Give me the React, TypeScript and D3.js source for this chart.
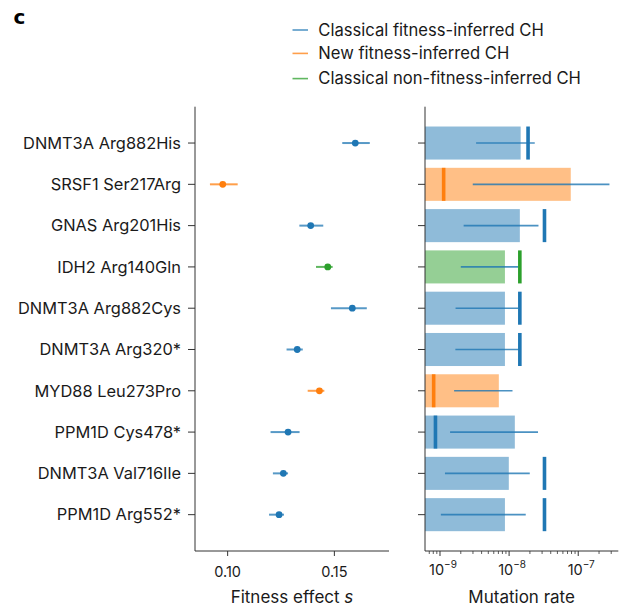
import React from "react";
import * as d3 from "d3";

const categories = [
  "DNMT3A Arg882His",
  "SRSF1 Ser217Arg",
  "GNAS Arg201His",
  "IDH2 Arg140Gln",
  "DNMT3A Arg882Cys",
  "DNMT3A Arg320*",
  "MYD88 Leu273Pro",
  "PPM1D Cys478*",
  "DNMT3A Val716Ile",
  "PPM1D Arg552*",
];
const groups = ["classical", "new", "classical", "nonfit", "classical", "classical", "new", "classical", "classical", "classical"];
const fitness = [0.1598, 0.0977, 0.1389, 0.1469, 0.1584, 0.1326, 0.143, 0.1283, 0.1261, 0.1241];
const fitnessLo = [0.1537, 0.0917, 0.1336, 0.1414, 0.1484, 0.1276, 0.1375, 0.1201, 0.1212, 0.1194];
const fitnessHi = [0.1666, 0.1047, 0.1448, 0.1492, 0.1652, 0.1352, 0.1453, 0.1337, 0.1283, 0.1264];
const barRate = [1.47e-8, 7.8e-8, 1.43e-8, 8.7e-9, 8.7e-9, 8.7e-9, 7.1e-9, 1.21e-8, 9.9e-9, 8.7e-9];
const markerRate = [1.88e-8, 1.13e-9, 3.25e-8, 1.43e-8, 1.43e-8, 1.43e-8, 8.1e-10, 8.6e-10, 3.25e-8, 3.25e-8];
const rateLo = [3.33e-9, 2.98e-9, 2.2e-9, 2.0e-9, 1.68e-9, 1.67e-9, 1.6e-9, 1.4e-9, 1.18e-9, 1.03e-9];
const rateHi = [2.35e-8, 2.83e-7, 2.66e-8, 1.35e-8, 1.35e-8, 1.4e-8, 1.12e-8, 2.62e-8, 1.99e-8, 1.74e-8];
const legendKeys = ["classical", "new", "nonfit"];
const legendLabels = ["Classical fitness-inferred CH", "New fitness-inferred CH", "Classical non-fitness-inferred CH"];
const fitnessTicks = [0.1, 0.15];
const rateMajorTicks = [1e-9, 1e-8, 1e-7];
const rateMajorExp = [-9, -8, -7];

const colors: Record<string, string> = {
  classical: "#1f77b4",
  new: "#ff7f0e",
  nonfit: "#2ca02c",
};

const FONT = "Inter, 'Noto Sans', sans-serif";
const TXT = "#1a1a1a";

export default function App() {
  const W = 631;
  const H = 611;
  const top = 106.7;
  const bottom = 551;
  const y = d3.scalePoint<string>().domain(categories).range([top, bottom]).padding(0.88);
  const step = y.step();
  const barH = step * 0.8;

  const xL = d3.scaleLinear().domain([0.0847, 0.1756]).range([195, 389]);
  const xR = d3.scaleLog().domain([6.07e-10, 3.8e-7]).range([425, 618.3]);

  const [dmin, dmax] = xR.domain();
  const minorTicks: number[] = [];
  for (let e = -10; e <= -7; e++) {
    for (let m = 2; m <= 9; m++) {
      const v = m * Math.pow(10, e);
      if (v >= dmin && v <= dmax) minorTicks.push(v);
    }
  }

  const axisColor = "#333";
  const legendY = [30, 53.4, 78.6];

  return (
    <svg width={W} height={H} style={{ position: "absolute", left: 0, top: 0 }} fontFamily={FONT}>
      <rect width={W} height={H} fill="#fff" />
      <text x={13.5} y={24} fontSize={20} fontWeight={900} fontFamily="'DejaVu Sans', sans-serif">c</text>

      {/* legend */}
      {legendKeys.map((k, i) => (
        <g key={k}>
          <line x1={292.5} x2={308} y1={legendY[i]} y2={legendY[i]} stroke={colors[k]} strokeWidth={1.6} opacity={0.75} />
          <text x={318.3} y={legendY[i] + 5.8} fontSize={16.6} fill={TXT}>{legendLabels[i]}</text>
        </g>
      ))}

      {/* left panel */}
      <line x1={195} x2={195} y1={top} y2={bottom} stroke={axisColor} strokeWidth={1} />
      <line x1={195} x2={389} y1={bottom} y2={bottom} stroke={axisColor} strokeWidth={1} />
      {categories.map((c) => (
        <g key={c}>
          <line x1={188} x2={195} y1={y(c)} y2={y(c)} stroke={axisColor} strokeWidth={1} />
          <text x={181} y={(y(c) as number) + 5.8} fontSize={16.4} textAnchor="end" fill={TXT}>{c}</text>
        </g>
      ))}
      {fitnessTicks.map((t) => (
        <g key={t}>
          <line x1={xL(t)} x2={xL(t)} y1={bottom} y2={bottom + 5} stroke={axisColor} strokeWidth={1} />
          <text x={xL(t)} y={577} fontSize={14.5} textAnchor="middle" fill={TXT}>{t.toFixed(2)}</text>
        </g>
      ))}
      <text x={(195 + 389) / 2} y={603} fontSize={17} textAnchor="middle" fill={TXT}>
        Fitness effect <tspan fontStyle="italic">s</tspan>
      </text>
      {categories.map((c, i) => (
        <g key={c}>
          <line x1={xL(fitnessLo[i])} x2={xL(fitnessHi[i])} y1={y(c)} y2={y(c)} stroke={colors[groups[i]]} strokeWidth={2} opacity={0.75} />
          <circle cx={xL(fitness[i])} cy={y(c)} r={3.4} fill={colors[groups[i]]} />
        </g>
      ))}

      {/* right panel */}
      {categories.map((c, i) => (
        <rect key={c} x={xR.range()[0]} y={(y(c) as number) - barH / 2} width={xR(barRate[i]) - xR.range()[0]} height={barH} fill={colors[groups[i]]} opacity={0.5} />
      ))}
      {categories.map((c, i) => (
        <line key={c} x1={xR(rateLo[i])} x2={xR(rateHi[i])} y1={y(c)} y2={y(c)} stroke="#1f77b4" strokeWidth={1.6} opacity={0.8} />
      ))}
      {categories.map((c, i) => (
        <rect key={c} x={xR(markerRate[i]) - 1.8} y={(y(c) as number) - barH / 2} width={3.6} height={barH} fill={colors[groups[i]]} />
      ))}
      <line x1={425} x2={425} y1={top} y2={bottom} stroke={axisColor} strokeWidth={1} />
      <line x1={425} x2={618.3} y1={bottom} y2={bottom} stroke={axisColor} strokeWidth={1} />
      {categories.map((c) => (
        <line key={c} x1={418} x2={425} y1={y(c)} y2={y(c)} stroke={axisColor} strokeWidth={1} />
      ))}
      {minorTicks.map((t) => (
        <line key={t} x1={xR(t)} x2={xR(t)} y1={bottom} y2={bottom + 3} stroke={axisColor} strokeWidth={0.8} />
      ))}
      {rateMajorTicks.map((t, i) => (
        <g key={t}>
          <line x1={xR(t)} x2={xR(t)} y1={bottom} y2={bottom + 5} stroke={axisColor} strokeWidth={1} />
          <text x={xR(t) + 3} y={575} fontSize={14.5} textAnchor="middle" fill={TXT}>
            10<tspan fontSize={10} dy={-7}>{"\u2212" + String(-rateMajorExp[i])}</tspan>
          </text>
        </g>
      ))}
      <text x={(425 + 618.3) / 2} y={603} fontSize={17} textAnchor="middle" fill={TXT}>Mutation rate</text>
    </svg>
  );
}
